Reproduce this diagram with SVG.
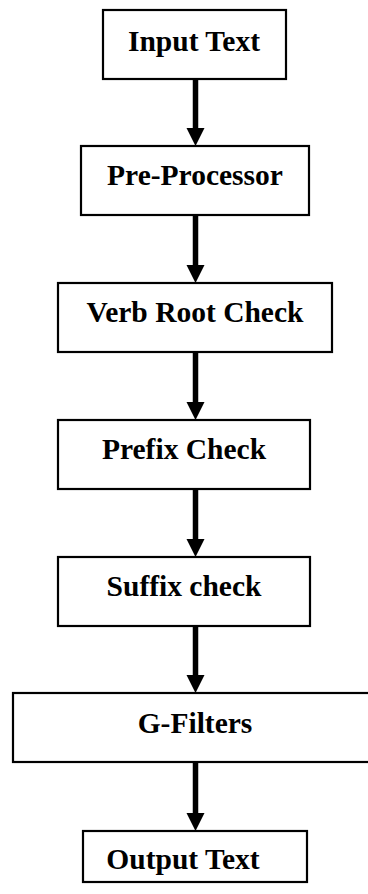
<svg xmlns="http://www.w3.org/2000/svg" width="368" height="894" viewBox="0 0 368 894">
<style>
.box{fill:#fff;stroke:#000;stroke-width:2.2}
.lbl{font-family:"Liberation Serif","Times New Roman",serif;font-weight:bold;font-size:29.5px;fill:#000;text-anchor:middle}
.shaft{stroke:#000;stroke-width:5.5;fill:none}
.head{fill:#000}
</style>
<rect width="368" height="894" fill="#fff"/>
<g id="connectors">
<line class="shaft" x1="195.5" y1="79" x2="195.5" y2="130"/><polygon class="head" points="186.5,128 204.5,128 195.5,146"/>
<line class="shaft" x1="195.5" y1="215" x2="195.5" y2="267"/><polygon class="head" points="186.5,265 204.5,265 195.5,283"/>
<line class="shaft" x1="195.5" y1="352" x2="195.5" y2="404"/><polygon class="head" points="186.5,402 204.5,402 195.5,420"/>
<line class="shaft" x1="195.5" y1="489" x2="195.5" y2="541"/><polygon class="head" points="186.5,539 204.5,539 195.5,557"/>
<line class="shaft" x1="195.5" y1="626" x2="195.5" y2="677"/><polygon class="head" points="186.5,675 204.5,675 195.5,693"/>
<line class="shaft" x1="195.5" y1="762" x2="195.5" y2="815"/><polygon class="head" points="186.5,813 204.5,813 195.5,831"/>
</g>
<g id="input-text"><rect class="box" x="103" y="10" width="183" height="69"/><text class="lbl" x="194" y="51">Input Text</text></g>
<g id="pre-processor"><rect class="box" x="81" y="146" width="228" height="69"/><text class="lbl" x="195" y="185">Pre-Processor</text></g>
<g id="verb-root-check"><rect class="box" x="58" y="283" width="274" height="69"/><text class="lbl" x="195" y="322">Verb Root Check</text></g>
<g id="prefix-check"><rect class="box" x="58" y="420" width="252" height="69"/><text class="lbl" x="184" y="459">Prefix Check</text></g>
<g id="suffix-check"><rect class="box" x="58" y="557" width="252" height="69"/><text class="lbl" x="184" y="596">Suffix check</text></g>
<g id="g-filters"><rect class="box" x="13" y="693" width="365" height="69"/><text class="lbl" x="195" y="733">G-Filters</text></g>
<g id="output-text"><rect class="box" x="83" y="831" width="224" height="51"/><text class="lbl" x="183" y="869">Output Text</text></g>
</svg>
